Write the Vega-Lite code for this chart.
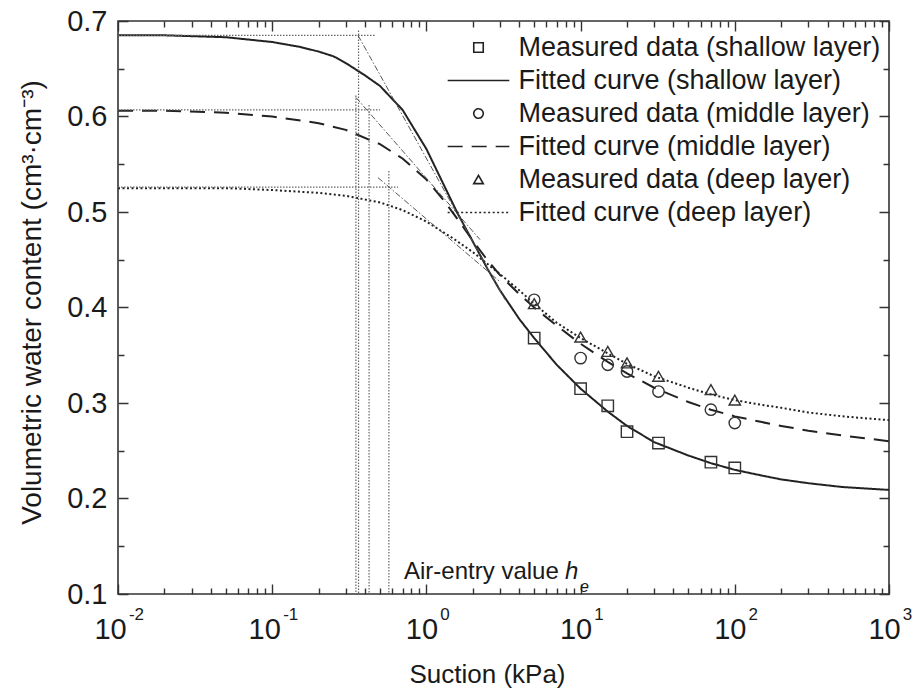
{
  "$schema": "https://vega.github.io/schema/vega-lite/v6.json",
  "width": 771,
  "height": 573,
  "autosize": {"type": "none"},
  "padding": {"left": 118, "top": 21, "right": 24, "bottom": 102},
  "background": "white",
  "config": {
    "font": "Liberation Sans",
    "view": {"stroke": "#333", "strokeWidth": 1.6},
    "axis": {
      "domain": false,
      "ticks": false,
      "labelColor": "#1a1a1a",
      "titleColor": "#1a1a1a",
      "labelFont": "Liberation Sans",
      "titleFont": "Liberation Sans",
      "titleFontWeight": "normal",
      "gridColor": "#333333",
      "gridOpacity": 1,
      "gridWidth": 1.4
    }
  },
  "datasets": {
    "curves": [
      {"s": "Fitted curve (shallow layer)", "x": 0.01, "t": 0.685},
      {"s": "Fitted curve (shallow layer)", "x": 0.02, "t": 0.685},
      {"s": "Fitted curve (shallow layer)", "x": 0.05, "t": 0.683},
      {"s": "Fitted curve (shallow layer)", "x": 0.1, "t": 0.678},
      {"s": "Fitted curve (shallow layer)", "x": 0.15, "t": 0.673},
      {"s": "Fitted curve (shallow layer)", "x": 0.2, "t": 0.668},
      {"s": "Fitted curve (shallow layer)", "x": 0.25, "t": 0.663},
      {"s": "Fitted curve (shallow layer)", "x": 0.3, "t": 0.656},
      {"s": "Fitted curve (shallow layer)", "x": 0.4, "t": 0.643},
      {"s": "Fitted curve (shallow layer)", "x": 0.5, "t": 0.632},
      {"s": "Fitted curve (shallow layer)", "x": 0.7, "t": 0.607},
      {"s": "Fitted curve (shallow layer)", "x": 1, "t": 0.566},
      {"s": "Fitted curve (shallow layer)", "x": 1.3, "t": 0.528},
      {"s": "Fitted curve (shallow layer)", "x": 1.6, "t": 0.498},
      {"s": "Fitted curve (shallow layer)", "x": 2, "t": 0.469},
      {"s": "Fitted curve (shallow layer)", "x": 2.5, "t": 0.44},
      {"s": "Fitted curve (shallow layer)", "x": 3, "t": 0.418},
      {"s": "Fitted curve (shallow layer)", "x": 4, "t": 0.388},
      {"s": "Fitted curve (shallow layer)", "x": 5, "t": 0.368},
      {"s": "Fitted curve (shallow layer)", "x": 7, "t": 0.34},
      {"s": "Fitted curve (shallow layer)", "x": 10, "t": 0.315},
      {"s": "Fitted curve (shallow layer)", "x": 15, "t": 0.291},
      {"s": "Fitted curve (shallow layer)", "x": 20, "t": 0.276},
      {"s": "Fitted curve (shallow layer)", "x": 30, "t": 0.259},
      {"s": "Fitted curve (shallow layer)", "x": 50, "t": 0.245},
      {"s": "Fitted curve (shallow layer)", "x": 70, "t": 0.237},
      {"s": "Fitted curve (shallow layer)", "x": 100, "t": 0.23},
      {"s": "Fitted curve (shallow layer)", "x": 150, "t": 0.224},
      {"s": "Fitted curve (shallow layer)", "x": 200, "t": 0.22},
      {"s": "Fitted curve (shallow layer)", "x": 300, "t": 0.216},
      {"s": "Fitted curve (shallow layer)", "x": 500, "t": 0.212},
      {"s": "Fitted curve (shallow layer)", "x": 1000, "t": 0.209},
      {"s": "Fitted curve (middle layer)", "x": 0.01, "t": 0.606},
      {"s": "Fitted curve (middle layer)", "x": 0.02, "t": 0.606},
      {"s": "Fitted curve (middle layer)", "x": 0.05, "t": 0.604},
      {"s": "Fitted curve (middle layer)", "x": 0.1, "t": 0.6},
      {"s": "Fitted curve (middle layer)", "x": 0.2, "t": 0.593},
      {"s": "Fitted curve (middle layer)", "x": 0.3, "t": 0.586},
      {"s": "Fitted curve (middle layer)", "x": 0.5, "t": 0.571},
      {"s": "Fitted curve (middle layer)", "x": 0.7, "t": 0.556},
      {"s": "Fitted curve (middle layer)", "x": 1, "t": 0.534},
      {"s": "Fitted curve (middle layer)", "x": 1.3, "t": 0.512},
      {"s": "Fitted curve (middle layer)", "x": 1.6, "t": 0.492},
      {"s": "Fitted curve (middle layer)", "x": 2, "t": 0.47},
      {"s": "Fitted curve (middle layer)", "x": 2.5, "t": 0.449},
      {"s": "Fitted curve (middle layer)", "x": 3, "t": 0.434},
      {"s": "Fitted curve (middle layer)", "x": 4, "t": 0.414},
      {"s": "Fitted curve (middle layer)", "x": 5, "t": 0.4},
      {"s": "Fitted curve (middle layer)", "x": 7, "t": 0.381},
      {"s": "Fitted curve (middle layer)", "x": 10, "t": 0.362},
      {"s": "Fitted curve (middle layer)", "x": 15, "t": 0.343},
      {"s": "Fitted curve (middle layer)", "x": 20, "t": 0.331},
      {"s": "Fitted curve (middle layer)", "x": 30, "t": 0.316},
      {"s": "Fitted curve (middle layer)", "x": 50, "t": 0.301},
      {"s": "Fitted curve (middle layer)", "x": 70, "t": 0.293},
      {"s": "Fitted curve (middle layer)", "x": 100, "t": 0.286},
      {"s": "Fitted curve (middle layer)", "x": 150, "t": 0.28},
      {"s": "Fitted curve (middle layer)", "x": 200, "t": 0.276},
      {"s": "Fitted curve (middle layer)", "x": 300, "t": 0.271},
      {"s": "Fitted curve (middle layer)", "x": 500, "t": 0.266},
      {"s": "Fitted curve (middle layer)", "x": 1000, "t": 0.26},
      {"s": "Fitted curve (deep layer)", "x": 0.01, "t": 0.525},
      {"s": "Fitted curve (deep layer)", "x": 0.02, "t": 0.525},
      {"s": "Fitted curve (deep layer)", "x": 0.05, "t": 0.525},
      {"s": "Fitted curve (deep layer)", "x": 0.1, "t": 0.523},
      {"s": "Fitted curve (deep layer)", "x": 0.2, "t": 0.52},
      {"s": "Fitted curve (deep layer)", "x": 0.3, "t": 0.517},
      {"s": "Fitted curve (deep layer)", "x": 0.5, "t": 0.51},
      {"s": "Fitted curve (deep layer)", "x": 0.7, "t": 0.502},
      {"s": "Fitted curve (deep layer)", "x": 1, "t": 0.49},
      {"s": "Fitted curve (deep layer)", "x": 1.5, "t": 0.472},
      {"s": "Fitted curve (deep layer)", "x": 2, "t": 0.458},
      {"s": "Fitted curve (deep layer)", "x": 3, "t": 0.435},
      {"s": "Fitted curve (deep layer)", "x": 4, "t": 0.418},
      {"s": "Fitted curve (deep layer)", "x": 5, "t": 0.404},
      {"s": "Fitted curve (deep layer)", "x": 7, "t": 0.384},
      {"s": "Fitted curve (deep layer)", "x": 10, "t": 0.368},
      {"s": "Fitted curve (deep layer)", "x": 15, "t": 0.352},
      {"s": "Fitted curve (deep layer)", "x": 20, "t": 0.341},
      {"s": "Fitted curve (deep layer)", "x": 30, "t": 0.328},
      {"s": "Fitted curve (deep layer)", "x": 50, "t": 0.316},
      {"s": "Fitted curve (deep layer)", "x": 70, "t": 0.309},
      {"s": "Fitted curve (deep layer)", "x": 100, "t": 0.303},
      {"s": "Fitted curve (deep layer)", "x": 150, "t": 0.298},
      {"s": "Fitted curve (deep layer)", "x": 200, "t": 0.295},
      {"s": "Fitted curve (deep layer)", "x": 300, "t": 0.29},
      {"s": "Fitted curve (deep layer)", "x": 500, "t": 0.286},
      {"s": "Fitted curve (deep layer)", "x": 1000, "t": 0.282}
    ],
    "points": [
      {"s": "Measured data (shallow layer)", "x": 5, "t": 0.368},
      {"s": "Measured data (shallow layer)", "x": 10, "t": 0.315},
      {"s": "Measured data (shallow layer)", "x": 15, "t": 0.297},
      {"s": "Measured data (shallow layer)", "x": 20, "t": 0.27},
      {"s": "Measured data (shallow layer)", "x": 32, "t": 0.258},
      {"s": "Measured data (shallow layer)", "x": 70, "t": 0.238},
      {"s": "Measured data (shallow layer)", "x": 100, "t": 0.232},
      {"s": "Measured data (middle layer)", "x": 5, "t": 0.408},
      {"s": "Measured data (middle layer)", "x": 10, "t": 0.347},
      {"s": "Measured data (middle layer)", "x": 15, "t": 0.34},
      {"s": "Measured data (middle layer)", "x": 20, "t": 0.333},
      {"s": "Measured data (middle layer)", "x": 32, "t": 0.312},
      {"s": "Measured data (middle layer)", "x": 70, "t": 0.293},
      {"s": "Measured data (middle layer)", "x": 100, "t": 0.279},
      {"s": "Measured data (deep layer)", "x": 5, "t": 0.404},
      {"s": "Measured data (deep layer)", "x": 10, "t": 0.369},
      {"s": "Measured data (deep layer)", "x": 15, "t": 0.354},
      {"s": "Measured data (deep layer)", "x": 20, "t": 0.342},
      {"s": "Measured data (deep layer)", "x": 32, "t": 0.328},
      {"s": "Measured data (deep layer)", "x": 70, "t": 0.314},
      {"s": "Measured data (deep layer)", "x": 100, "t": 0.303}
    ],
    "guides": [
      {"g": "h1", "x": 0.01, "t": 0.685},
      {"g": "h1", "x": 0.464, "t": 0.685},
      {"g": "h2", "x": 0.01, "t": 0.607},
      {"g": "h2", "x": 0.5, "t": 0.607},
      {"g": "h3", "x": 0.01, "t": 0.526},
      {"g": "h3", "x": 0.655, "t": 0.526},
      {"g": "v1", "x": 0.363, "t": 0.69},
      {"g": "v1", "x": 0.363, "t": 0.1},
      {"g": "v1b", "x": 0.349, "t": 0.622},
      {"g": "v1b", "x": 0.349, "t": 0.1},
      {"g": "v2", "x": 0.425, "t": 0.612},
      {"g": "v2", "x": 0.425, "t": 0.1},
      {"g": "v3", "x": 0.571, "t": 0.543},
      {"g": "v3", "x": 0.571, "t": 0.1}
    ],
    "tangents": [
      {"g": "t1", "x": 0.36, "t": 0.685},
      {"g": "t1", "x": 3.24, "t": 0.408},
      {"g": "t2", "x": 0.349, "t": 0.62},
      {"g": "t2", "x": 2.23, "t": 0.471},
      {"g": "t3", "x": 0.485, "t": 0.536},
      {"g": "t3", "x": 3.0, "t": 0.427}
    ]
  },
  "layer": [
    {
      "data": {"name": "curves"},
      "mark": {"type": "line", "color": "#222", "strokeWidth": 2},
      "encoding": {
        "x": {
          "field": "x", "type": "quantitative",
          "scale": {"type": "log", "domain": [0.01, 1000], "nice": false},
          "axis": {
            "orient": "bottom",
            "values": [0.01, 0.1, 1, 10, 100, 1000],
            "labelExpr": "'10'",
            "grid": true,
            "gridDash": [10, 553, 10, 1000],
            "labelOffset": {"condition": {"test": "datum.value < 0.5", "value": -8}, "value": -5},
            "labelPadding": 21,
            "labelFontSize": 29,
            "labelFlush": false,
            "labelOverlap": false,
            "title": "Suction (kPa)",
            "titleFontSize": 26,
            "titleX": 369,
            "titleY": 88,
            "titleAlign": "center",
            "titleBaseline": "alphabetic"
          }
        },
        "y": {
          "field": "t", "type": "quantitative",
          "scale": {"domain": [0.1, 0.7], "nice": false, "zero": false},
          "axis": {
            "orient": "left",
            "values": [0.1, 0.2, 0.3, 0.4, 0.5, 0.6, 0.7],
            "format": ".1f",
            "grid": true,
            "gridDash": [10, 751, 10, 1000],
            "labelPadding": 11,
            "labelFontSize": 29,
            "labelFlush": false,
            "labelOverlap": false,
            "title": "Volumetric water content (cm³·cm⁻³)",
            "titleFontSize": 28,
            "titleAngle": -90,
            "titleX": -78,
            "titleY": 281,
            "titleAlign": "center",
            "titleBaseline": "alphabetic"
          }
        },
        "strokeDash": {
          "field": "s", "type": "nominal",
          "scale": {
            "domain": ["Measured data (shallow layer)", "Fitted curve (shallow layer)", "Measured data (middle layer)", "Fitted curve (middle layer)", "Measured data (deep layer)", "Fitted curve (deep layer)"],
            "range": [[1, 0], [1, 0], [1, 0], [15, 9], [1, 0], [2, 2.5]]
          },
          "legend": {
            "title": null, "orient": "none", "legendX": 347, "legendY": 13,
            "labelFontSize": 27, "labelFont": "Liberation Sans", "labelColor": "#1a1a1a",
            "labelOffset": 26.5, "labelLimit": 600, "rowPadding": 5,
            "symbolSize": 90, "symbolStrokeColor": "#222", "symbolFillColor": "transparent",
            "symbolStrokeWidth": 1.6, "padding": 0, "symbolOffset": 0
          }
        }
      }
    },
    {
      "data": {"name": "points"},
      "mark": {"type": "point", "filled": false, "color": "#333", "strokeWidth": 1.4, "size": 130, "opacity": 1},
      "encoding": {
        "x": {
          "field": "x", "type": "quantitative",
          "scale": {"type": "log", "domain": [0.01, 1000], "nice": false},
          "axis": {
            "orient": "bottom",
            "values": [0.01, 0.1, 1, 10, 100, 1000],
            "labelExpr": "'' + round(log(datum.value)/LN10)",
            "grid": false,
            "labelPadding": 12,
            "labelOffset": 18,
            "labelFontSize": 17,
            "labelFlush": false,
            "labelOverlap": false,
            "title": null
          }
        },
        "y": {
          "field": "t", "type": "quantitative",
          "scale": {"domain": [0.1, 0.7], "nice": false, "zero": false},
          "axis": {
            "orient": "left",
            "values": [0.15, 0.25, 0.35, 0.45, 0.55, 0.65],
            "labels": false,
            "grid": true,
            "gridDash": [6, 759, 6, 1000],
            "title": null
          }
        },
        "shape": {
          "field": "s", "type": "nominal",
          "scale": {
            "domain": ["Measured data (shallow layer)", "Fitted curve (shallow layer)", "Measured data (middle layer)", "Fitted curve (middle layer)", "Measured data (deep layer)", "Fitted curve (deep layer)"],
            "range": ["square", "M-6.5,0H6.5", "circle", "M-6.5,0H6.5", "triangle-up", "M-6.5,0H6.5"]
          },
          "legend": {
            "title": null, "orient": "none", "legendX": 347, "legendY": 13,
            "labelFontSize": 27, "labelFont": "Liberation Sans", "labelColor": "#1a1a1a",
            "labelOffset": 26.5, "labelLimit": 600, "rowPadding": 5,
            "symbolSize": 90, "symbolStrokeColor": "#222", "symbolFillColor": "transparent",
            "symbolStrokeWidth": 1.6, "padding": 0, "symbolOffset": 0
          }
        }
      }
    },
    {
      "data": {"name": "guides"},
      "mark": {"type": "line", "color": "#666", "strokeWidth": 1.2, "strokeDash": [1.5, 1.5]},
      "encoding": {
        "x": {
          "field": "x", "type": "quantitative",
          "scale": {"type": "log", "domain": [0.01, 1000], "nice": false},
          "axis": {
            "orient": "bottom",
            "values": [0.02,0.03,0.04,0.05,0.06,0.07,0.08,0.09,0.2,0.3,0.4,0.5,0.6,0.7,0.8,0.9,2,3,4,5,6,7,8,9,20,30,40,50,60,70,80,90,200,300,400,500,600,700,800,900],
            "labels": false,
            "grid": true,
            "gridDash": [6, 561, 6, 1000],
            "title": null
          }
        },
        "y": {
          "field": "t", "type": "quantitative",
          "scale": {"domain": [0.1, 0.7], "nice": false, "zero": false},
          "axis": null
        },
        "detail": {"field": "g"}
      }
    },
    {
      "data": {"name": "tangents"},
      "mark": {"type": "line", "color": "#555", "strokeWidth": 1, "strokeDash": [6, 2, 1.5, 2]},
      "encoding": {
        "x": {"field": "x", "type": "quantitative", "scale": {"type": "log", "domain": [0.01, 1000], "nice": false}, "axis": null},
        "y": {"field": "t", "type": "quantitative", "scale": {"domain": [0.1, 0.7], "nice": false, "zero": false}, "axis": null},
        "detail": {"field": "g"}
      }
    },
    {
      "data": {"values": [{"label": "Air-entry value", "x": 0.716, "t": 0.123}]},
      "mark": {"type": "text", "align": "left", "baseline": "middle", "fontSize": 24, "color": "#1a1a1a", "font": "Liberation Sans"},
      "encoding": {
        "x": {"field": "x", "type": "quantitative", "scale": {"type": "log", "domain": [0.01, 1000], "nice": false}, "axis": null},
        "y": {"field": "t", "type": "quantitative", "scale": {"domain": [0.1, 0.7], "nice": false, "zero": false}, "axis": null},
        "text": {"field": "label"}
      }
    },
    {
      "data": {"values": [{"label": "h", "x": 7.93, "t": 0.123}]},
      "mark": {"type": "text", "align": "left", "baseline": "middle", "fontSize": 24, "fontStyle": "italic", "color": "#1a1a1a", "font": "Liberation Sans"},
      "encoding": {
        "x": {"field": "x", "type": "quantitative", "scale": {"type": "log", "domain": [0.01, 1000], "nice": false}, "axis": null},
        "y": {"field": "t", "type": "quantitative", "scale": {"domain": [0.1, 0.7], "nice": false, "zero": false}, "axis": null},
        "text": {"field": "label"}
      }
    },
    {
      "data": {"values": [{"label": "e", "x": 9.9, "t": 0.107}]},
      "mark": {"type": "text", "align": "left", "baseline": "middle", "fontSize": 16, "fontStyle": "italic", "color": "#1a1a1a", "font": "Liberation Sans"},
      "encoding": {
        "x": {"field": "x", "type": "quantitative", "scale": {"type": "log", "domain": [0.01, 1000], "nice": false}, "axis": null},
        "y": {"field": "t", "type": "quantitative", "scale": {"domain": [0.1, 0.7], "nice": false, "zero": false}, "axis": null},
        "text": {"field": "label"}
      }
    }
  ],
  "resolve": {"axis": {"x": "independent", "y": "independent"}}
}
